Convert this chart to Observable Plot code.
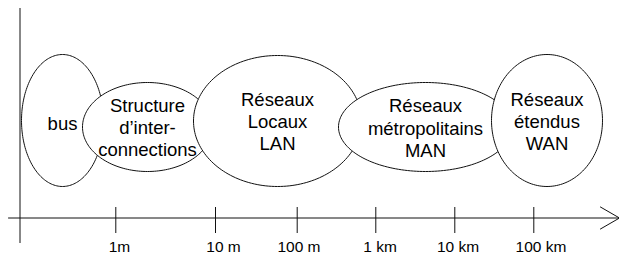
<!DOCTYPE html>
<html>
<head>
<meta charset="utf-8">
<script src="https://cdn.jsdelivr.net/npm/d3@7"></script>
<script src="https://cdn.jsdelivr.net/npm/@observablehq/plot@0.6"></script>
<style>
  html, body { margin: 0; padding: 0; background: #fff; }
  #chart { width: 619px; height: 254px; overflow: hidden; }
</style>
</head>
<body>
<div id="chart"></div>
<script>
// Network categories (text inside each ellipse)
const categories = ["bus", "Structure\nd\u2019inter-\nconnections", "Réseaux\nLocaux\nLAN", "Réseaux\nmétropolitains\nMAN", "Réseaux\nétendus\nWAN"];
// Extent of each ellipse along the distance axis (diagram units)
const spanStart = [21, 82, 193, 338, 491];
const spanEnd   = [103, 212, 361, 512, 602];
// Vertical extent of each ellipse (diagram units, top-down)
const spanTop    = [54, 82, 55, 82, 54];
const spanBottom = [186, 171, 186, 171, 186];
const labelY = [122.5, 126.5, 120.5, 127, 120.5];

// Distance axis
const tickLabels = ["1m", "10 m", "100 m", "1 km", "10 km", "100 km"];
const tickPos    = [115.3, 215, 296.7, 375.3, 454.3, 533.3];
const tickLabelPos = [119, 223, 298.5, 379.5, 457.5, 540.5];

// Build ellipse outlines from the extents
const outline = [];
categories.forEach((c, i) => {
  const cx = (spanStart[i] + spanEnd[i]) / 2, rx = (spanEnd[i] - spanStart[i]) / 2;
  const cy = (spanTop[i] + spanBottom[i]) / 2, ry = (spanBottom[i] - spanTop[i]) / 2;
  for (let k = 0; k < 180; k++) {
    const t = (k / 180) * 2 * Math.PI;
    outline.push({id: i, x: cx + rx * Math.cos(t), y: cy + ry * Math.sin(t)});
  }
});
const centers = categories.map((c, i) => ({label: c, x: (spanStart[i] + spanEnd[i]) / 2, y: labelY[i]}));
const ticks = tickLabels.map((t, i) => ({label: t, x: tickPos[i], lx: tickLabelPos[i]}));

const chart = Plot.plot({
  width: 619,
  height: 254,
  margin: 0,
  x: {domain: [0, 619], range: [0, 619], axis: null},
  y: {domain: [0, 254], range: [0, 254], axis: null},
  style: {background: "#fff", fontFamily: "'Liberation Sans', Arial, sans-serif", color: "#000"},
  marks: [
    // vertical axis line
    Plot.ruleX([19.5], {y1: 8, y2: 243, stroke: "#111", strokeWidth: 1}),
    // horizontal distance axis with arrow head
    Plot.arrow([{x1: 8, x2: 619, y: 217.5}], {x1: "x1", x2: "x2", y1: "y", y2: "y", headLength: 33, headAngle: 60, stroke: "#111", strokeWidth: 1}),
    Plot.ruleX(ticks, {x: "x", y1: 207, y2: 233, stroke: "#111", strokeWidth: 1}),
    Plot.text(ticks, {x: "lx", y: 247, text: "label", fontSize: 15.5, fill: "#000"}),
    // ellipses, drawn in order so later ones overlap earlier ones
    Plot.line(outline, {x: "x", y: "y", z: "id", curve: "linear-closed", fill: "#fff", stroke: "#111", strokeWidth: 1}),
    Plot.text(centers, {x: "x", y: "y", text: "label", fontSize: 18.5, lineHeight: 1.2, fill: "#000"})
  ]
});
document.getElementById("chart").append(chart);
</script>
</body>
</html>
